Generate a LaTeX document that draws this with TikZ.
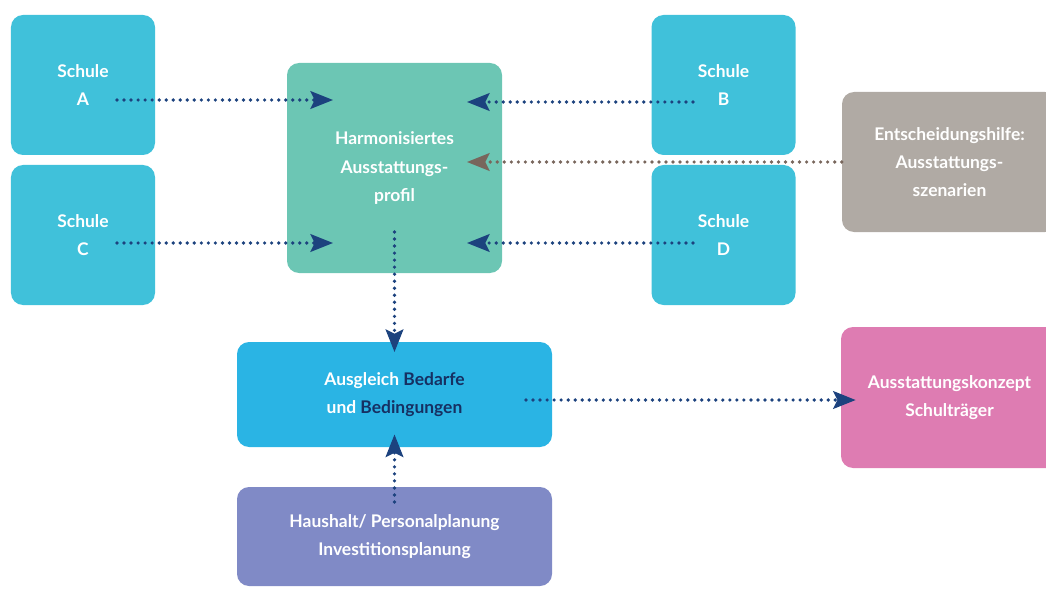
\documentclass[tikz,border=0pt]{standalone}
\usepackage{fontspec}
\setsansfont{Lato}
\usetikzlibrary{positioning, arrows.meta}

\definecolor{schulblau}{RGB}{64,193,218}
\definecolor{profilgruen}{RGB}{108,198,180}
\definecolor{hilfegrau}{RGB}{176,170,164}
\definecolor{ausgleichblau}{RGB}{42,180,228}
\definecolor{haushaltlila}{RGB}{128,138,198}
\definecolor{konzeptrosa}{RGB}{222,124,178}
\definecolor{pfeil}{RGB}{28,66,126}
\definecolor{pfeilbraun}{RGB}{120,102,92}
\definecolor{dunkel}{RGB}{22,48,98}

\begin{document}
\begin{tikzpicture}[node distance = 3.75cm, on grid,
    box/.style = {rectangle, rounded corners = 0.3cm, text = white, align = center,
      inner sep = 0pt, font = \sffamily\bfseries\fontsize{12.4}{20}\selectfont},
    schule/.style = {box, fill = schulblau, minimum width = 3.6cm, minimum height = 3.5cm},
    flow/.style = {color = pfeil, line width = 2.6pt, dash pattern = on 0pt off 5pt,
      line cap = round, -{Stealth[length = 16pt, width = 12.5pt, inset = 3pt]}}]
  \useasboundingbox (0,0) rectangle (26.15,-14.725);
  \node[schule] (A) at (2.075,-2.125) {Schule\\A};
  \node[schule] (C) [below=of A] {Schule\\C};
  \node[schule] (B) [right=16.0125cm of A] {Schule\\B};
  \node[schule] (D) [below=of B] {Schule\\D};
  \node[box, fill = profilgruen, minimum width = 5.375cm, minimum height = 5.25cm]
    (H) [below right=2.075cm and 7.7875cm of A] {Harmonisiertes\\Ausstattungs-\\profil};
  \node[box, fill = hilfegrau, minimum width = 5.375cm, minimum height = 3.5cm]
    (E) [below right=1.925cm and 5.65cm of B] {Entscheidungshilfe:\\Ausstattungs-\\szenarien};
  \node[box, fill = ausgleichblau, minimum width = 7.875cm, minimum height = 2.625cm]
    (G) [below=5.6625cm of H] {Ausgleich \textcolor{dunkel}{Bedarfe}\\und \textcolor{dunkel}{Bedingungen}};
  \node[box, fill = haushaltlila, minimum width = 7.875cm, minimum height = 2.475cm]
    (P) [below=3.55cm of G] {Haushalt/ Personalplanung\\Investitionsplanung};
  \node[box, fill = konzeptrosa, minimum width = 5.425cm, minimum height = 3.525cm]
    (K) [below=5.8875cm of E] {Ausstattungskonzept\\Schulträger};

  \coordinate (A-out) at ([shift={(0.85,-0.375)}]A.center);
  \coordinate (C-out) at ([shift={(0.85,-0.2)}]C.center);
  \coordinate (B-out) at ([shift={(-0.7625,-0.425)}]B.center);
  \coordinate (D-out) at ([shift={(-0.7625,-0.2)}]D.center);
  \coordinate (H-inA) at ([shift={(-1.5375,1.7)}]H.center);
  \coordinate (H-inC) at ([shift={(-1.5375,-1.875)}]H.center);
  \coordinate (H-inB) at ([shift={(1.8125,1.65)}]H.center);
  \coordinate (H-inD) at ([shift={(1.8125,-1.875)}]H.center);
  \coordinate (H-inE) at ([shift={(1.8125,0.15)}]H.center);
  \coordinate (H-out) at ([shift={(0,-1.6)}]H.center);
  \coordinate (G-inH) at ([shift={(0,1.0625)}]G.center);
  \coordinate (G-inP) at ([shift={(0,-1.0)}]G.center);
  \coordinate (G-out) at ([shift={(3.2875,-0.1375)}]G.center);
  \coordinate (P-out) at ([shift={(0,0.8625)}]P.center);
  \coordinate (K-in) at ([xshift=0.375cm]K.west |- G-out);

  \path[flow]
    (A-out) edge (H-inA)
    (C-out) edge (H-inC)
    (B-out) edge (H-inB)
    (D-out) edge (H-inD)
    (H-out) edge (G-inH)
    (P-out) edge (G-inP)
    (G-out) edge (K-in);
  \path[flow, color = pfeilbraun]
    (E.west) edge (H-inE);
\end{tikzpicture}
\end{document}
